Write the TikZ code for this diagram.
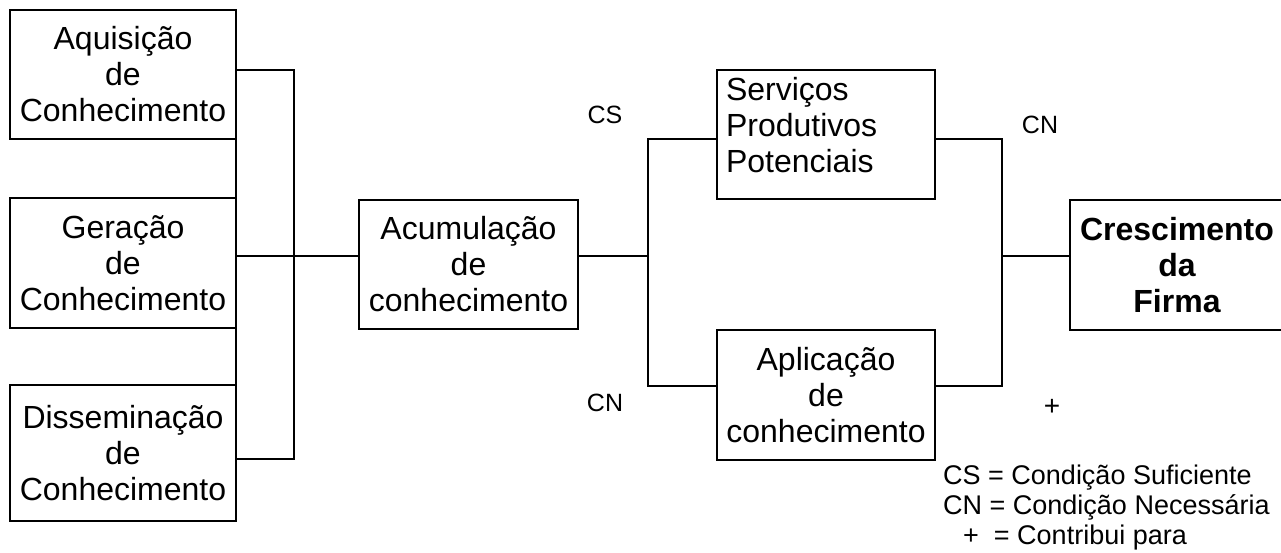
\documentclass[tikz,border=0pt]{standalone}
\usepackage{fontspec}
\setmainfont{Liberation Sans}
\usepackage{tikz}
\usetikzlibrary{calc,positioning}

\begin{document}
\begin{tikzpicture}[x=1pt,y=-1pt,
		box/.style={draw,line width=2pt,rectangle,inner sep=0pt,outer sep=0pt,align=center,font=\fontsize{32}{36}\selectfont},
		conn/.style={line width=2pt},
		cond/.style={inner sep=0pt,font=\fontsize{25}{30}\selectfont}]
		\useasboundingbox (0,0) rectangle (1281,552);
		% left column
		\node[box,minimum width=226,minimum height=129] (aq) at (123,74.5) {Aquisição\\de\\Conhecimento};
		\node[box,minimum width=226,minimum height=130] (ger) at (123,263) {Geração\\de\\Conhecimento};
		\node[box,minimum width=226,minimum height=136] (dis) at (123,453) {Disseminação\\de\\Conhecimento};
		\node[box,minimum width=219,minimum height=129] (acu) at (468.5,264.5) {Acumulação\\de\\conhecimento};
		\node[box,minimum width=218,minimum height=129,align=left,text width=200] (serv) at (826,134.5) {Serviços\\Produtivos\\Potenciais\\[-16pt]\mbox{}};
		\node[box,minimum width=218,minimum height=130] (apl) at (826,395) {Aplicação\\de\\conhecimento};
		\node[box,minimum width=214,minimum height=130,font=\fontsize{32}{36}\selectfont\bfseries] (cres) at (1177,265) {Crescimento\\da\\Firma};
		% junctions
		\coordinate (jt) at (294,70);
		\coordinate (jl) at (294,256);
		\coordinate (jb) at (294,459);
		\coordinate (ja) at (648,139);
		\coordinate (jm) at (648,256);
		\coordinate (jc) at (648,386);
		\coordinate (kt) at (1002,139);
		\coordinate (kr) at (1002,256);
		\coordinate (kb) at (1002,386);
		\draw[conn] (aq.south east) -- (ger.north east) (ger.south east) -- (dis.north east);
		\draw[conn] (aq.east |- jt) -- (jt) -- (jb) -- (dis.east |- jb);
		\draw[conn] (ger.east |- jl) -- (acu.west |- jl);
		\draw[conn] (acu.east |- jm) -- (jm);
		\draw[conn] (serv.west |- ja) -- (ja) -- (jc) -- (apl.west |- jc);
		\draw[conn] (serv.east |- kt) -- (kt) -- (kb) -- (apl.east |- kb);
		\draw[conn] (kr) -- (cres.west |- kr);
		% conditions
		\node[cond] (cs1) at (605,115) {CS};
		\node[cond] (cn1) at (605,403) {CN};
		\node[cond] (cn2) at (1040,125) {CN};
		\node[cond,font=\fontsize{28}{30}\selectfont] (plus) at (1052,407) {+};
		\node[cond,anchor=west,align=left,font=\fontsize{27}{30}\selectfont] (leg) at (943,508) {CS = Condição Suficiente\\CN = Condição Necessária\\\hspace*{20pt}+ \ = Contribui para};
\end{tikzpicture}
\end{document}
